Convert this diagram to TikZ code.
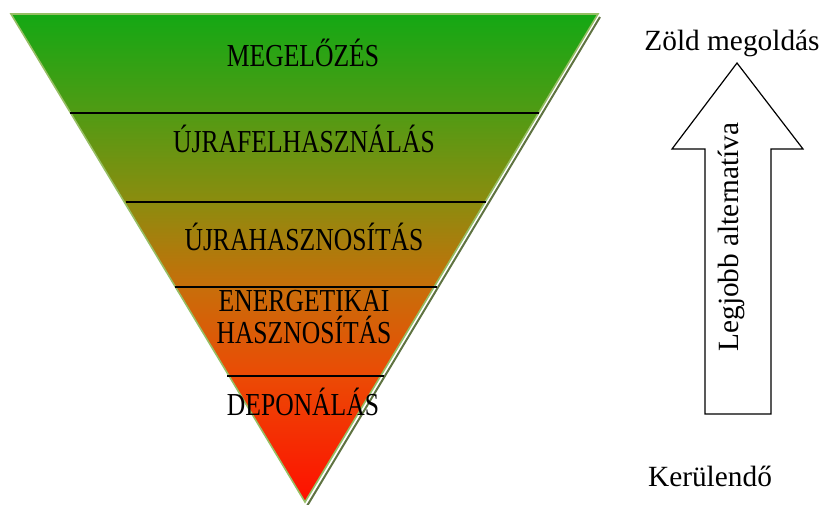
\documentclass[tikz,border=0pt]{standalone}
\usepackage{fontspec}
\setmainfont{Liberation Serif}
\newfontfamily\condfont[FakeStretch=0.8]{Liberation Serif}
\definecolor{topgreen}{RGB}{20,168,20}
\definecolor{upgreen}{RGB}{80,155,20}
\definecolor{midolive}{RGB}{140,140,15}
\definecolor{midorange}{RGB}{200,110,10}
\definecolor{lowred}{RGB}{235,75,5}
\definecolor{botred}{RGB}{255,15,0}
\definecolor{edgegreen}{RGB}{150,190,100}
\definecolor{edgeshadow}{RGB}{95,115,65}
\pgfdeclareverticalshading{wasteshade}{100bp}{color(0bp)=(botred); color(25bp)=(botred); color(38bp)=(lowred); color(47bp)=(midorange); color(55.75bp)=(midolive); color(65bp)=(upgreen); color(75bp)=(topgreen); color(100bp)=(topgreen)}
\tikzset{level/.style={font=\condfont\fontsize{24}{24}\selectfont, align=center, inner sep=0pt},
	side/.style={font=\fontsize{22}{24}\selectfont, inner sep=0pt}}
\begin{document}
\begin{tikzpicture}[x=0.75pt,y=-0.75pt]
		\useasboundingbox (0,0) rectangle (821,504);
		\draw[edgeshadow,line width=1.5pt] (600,17) -- (307,506);
		\shade[shading=wasteshade,draw=edgegreen,line width=1.2pt] (11,14) -- (598,14) -- (305,502) -- cycle;
		\draw[line width=1pt] (70,113) -- (539,113);
		\draw[line width=1pt] (126,202) -- (486,202);
		\draw[line width=1pt] (175,287) -- (437,287);
		\draw[line width=1pt] (227,376) -- (384,376);
		\path (303,53) node[level] (prev) {MEGELŐZÉS};
		\path (304,139) node[level] (reuse) {ÚJRAFELHASZNÁLÁS};
		\path (304,237) node[level] (recycle) {ÚJRAHASZNOSÍTÁS};
		\path (304,317) node[level] (energy) {ENERGETIKAI\\HASZNOSÍTÁS};
		\path (303,402) node[level] (landfill) {DEPONÁLÁS};
		%	arrow
		\draw[line width=0.9pt] (705,414) -- (705,149) -- (672,149) -- (737,63) -- (803,149) -- (771,149) -- (771,414) -- cycle;
		\path (731,237) node[side,rotate=90] (best) {Legjobb alternatíva};
		\path (732,43) node[side] (green) {Zöld megoldás};
		\path (710,476) node[side] (avoid) {Kerülendő};
	\end{tikzpicture}
\end{document}
